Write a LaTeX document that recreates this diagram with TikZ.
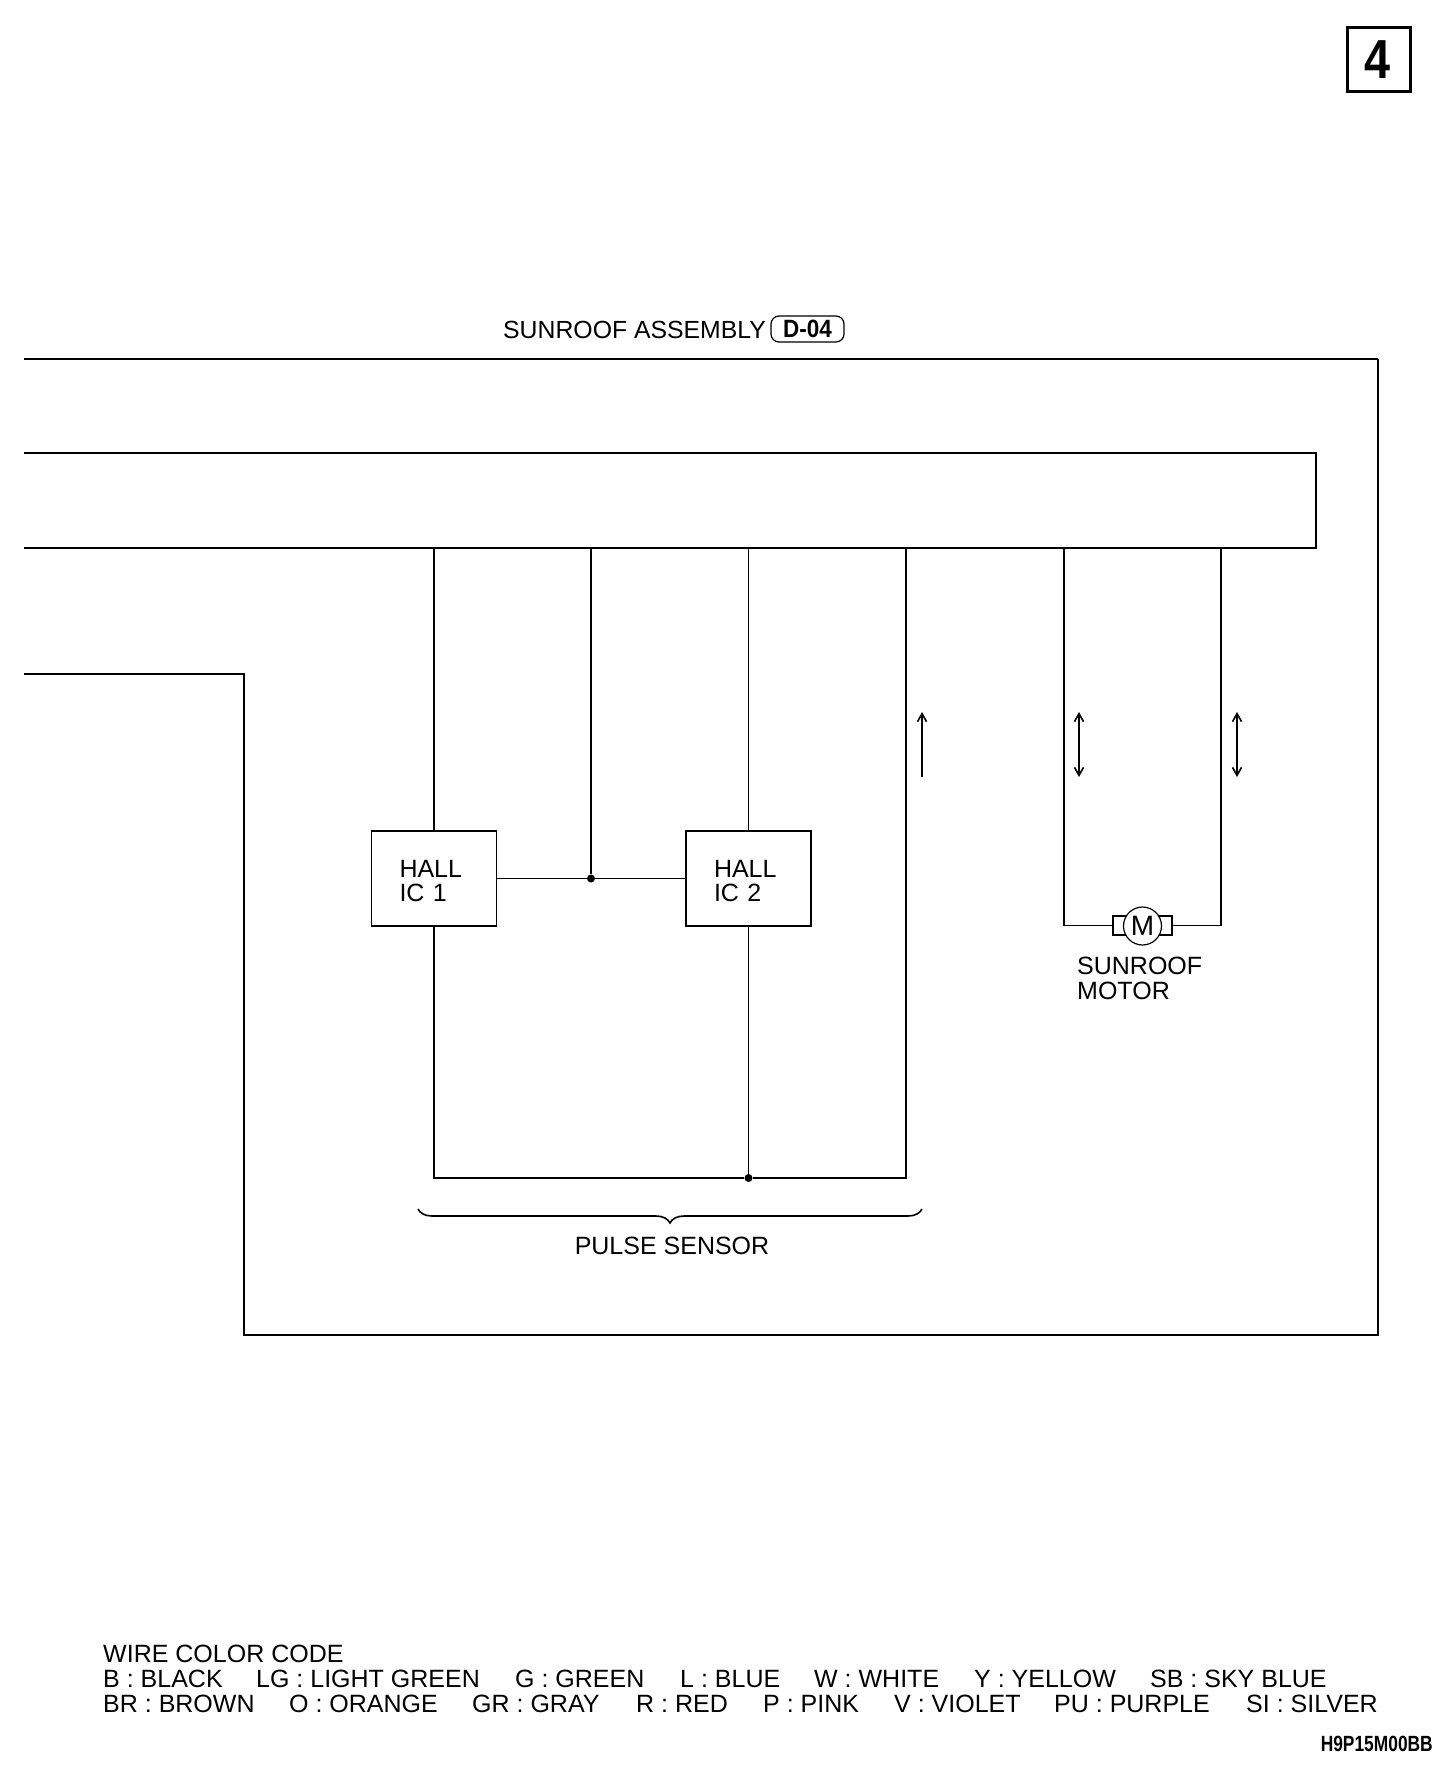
\documentclass[tikz,border=0pt]{standalone}
\usepackage{fontspec}
\setmainfont{Liberation Sans}
\usetikzlibrary{decorations.pathreplacing,arrows.meta,positioning}
\tikzset{>={Straight Barb[length=8pt,width=9pt]}}
\newcommand{\txtsize}{\fontsize{25}{24.5}\selectfont}

\begin{document}
\begin{tikzpicture}[x=1pt,y=-1pt,
              wire/.style={line width=1.9pt, black},
              thinwire/.style={line width=1.2pt, black},
              label/.style={inner sep=0pt, font=\txtsize, align=left},
              icbox/.style={draw, line width=1.7pt, minimum width=125pt, minimum height=95pt, inner sep=0pt, font=\txtsize, text width=69pt, text height=22.6pt, align=left},
              dot/.style={circle, fill=black, inner sep=0pt, minimum size=8pt},
              flowarrow/.style={line width=1.6pt},
             ]
\useasboundingbox (0,0) rectangle (1456,1770);
% page number box
\node[draw, line width=2.6pt, minimum width=63pt, minimum height=64pt, inner sep=0pt] (pagebox) at (1379,59.5)
    {\fontsize{55}{55}\selectfont\bfseries\scalebox{.85}[1]{4}\hspace*{4pt}};

% assembly outline and harness bar
\draw[line width=1.9pt] (24,359) -- (1378,359);
\draw[thinwire] (1378,359) -- (1378,1335) -- (244,1335) -- (244,674) -- (24,674);
\draw[thinwire] (24,453) -- (1316,453) -- (1316,548) -- (24,548);
\node[label, anchor=base west, font=\fontsize{24.8}{24.8}\selectfont] (assembly) at (503,338) {SUNROOF ASSEMBLY};
\node[draw, line width=1.2pt, rounded corners=8pt, minimum width=73pt, minimum height=26pt, inner sep=0pt, font=\txtsize\bfseries] (conn) at (807.5,329)
    {\scalebox{.9}[1]{D-04}};

\coordinate (top1) at (434,548);
\coordinate (top2) at (591,548);
\coordinate (top3) at (748.5,548);
\coordinate (top4) at (906,548);
\coordinate (top5) at (1064,548);
\coordinate (top6) at (1221,548);

% pulse sensor
\node[icbox] (hall1) at (434,878.5) {HALL\\IC 1};
\node[icbox] (hall2) at (748.5,878.5) {HALL\\IC 2};
\node[dot] (join1) at (591,878.5) {};
\node[dot] (join2) at (748.5,1178) {};
\draw[wire] (top1) -- (hall1.north);
\draw[wire] (top2) -- (join1);
\draw[thinwire] (top3) -- (hall2.north);
\draw[thinwire] (hall1.east) -- (join1) -- (hall2.west);
\draw[thinwire] (hall2.south) -- (join2);
\draw[wire] (hall1.south) |- (join2) -| (top4);
\draw[line width=1.6pt, decorate, decoration={brace, mirror, amplitude=14pt}] (418,1209) coordinate (braceL) -- (922,1209) coordinate (braceR);
\node[label, anchor=base] (pulse) at (672,1254) {PULSE SENSOR};

% motor
\node[draw, line width=1.6pt, fill=white, minimum width=59pt, minimum height=19pt, inner sep=0pt] (brush) at (1142.5,925.5) {};
\node[draw, circle, line width=1.2pt, fill=white, minimum size=38pt, inner sep=0pt, font=\fontsize{28}{28}\selectfont] (motor) at (1142.5,926) {M};
\draw[wire] (top5) |- (brush.west);
\draw[wire] (top6) |- (brush.east);
\node[label, anchor=north west] (motorname) at (1077,957) {SUNROOF\\MOTOR};

% signal direction
\draw[flowarrow, ->] (922,777) coordinate (up1) -- (922,712) coordinate (up2);
\draw[flowarrow, <->] (1079,777) coordinate (up3) -- (1079,712) coordinate (up4);
\draw[flowarrow, <->] (1237,777) coordinate (up5) -- (1237,712) coordinate (up6);

% wire color code
\node[label, anchor=base west] (code) at (103,1662) {WIRE COLOR CODE};
\foreach \xpos/\colorname in {103/B : BLACK, 256/LG : LIGHT GREEN, 515/G : GREEN, 680/L : BLUE, 814/W : WHITE, 974/Y : YELLOW, 1150/SB : SKY BLUE}
    \node[label, anchor=base west] (upper\xpos) at (\xpos,1687) {\colorname};
\foreach \xpos/\colorname in {103/BR : BROWN, 289/O : ORANGE, 472/GR : GRAY, 636/R : RED, 763/P : PINK, 894/V : VIOLET, 1054/PU : PURPLE, 1246/SI : SILVER}
    \node[label, anchor=base west] (lower\xpos) at (\xpos,1712) {\colorname};
\node[inner sep=0pt, anchor=base east, font=\fontsize{22}{22}\selectfont\bfseries] (figcode) at (1433,1751)
    {\scalebox{.79}[1]{H9P15M00BB}};
\end{tikzpicture}
\end{document}
